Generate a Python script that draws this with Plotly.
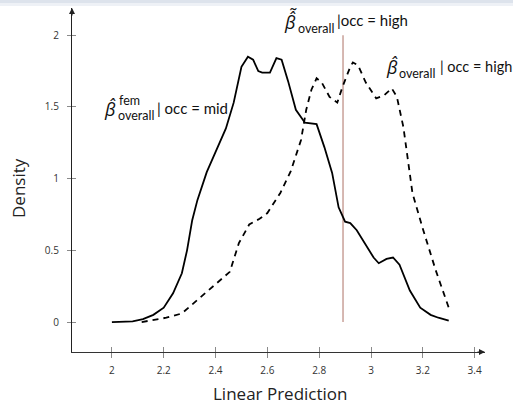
import plotly.graph_objects as go

# ---- data ----
mid_x = [2.0, 2.08, 2.12, 2.16, 2.2, 2.236, 2.27, 2.29, 2.31, 2.33, 2.366, 2.40, 2.44, 2.47,
         2.50, 2.525, 2.545, 2.565, 2.58, 2.61, 2.635, 2.655, 2.68, 2.71, 2.745, 2.79,
         2.82, 2.85, 2.875, 2.90, 2.92, 2.945, 2.985, 3.01, 3.03, 3.06, 3.085, 3.11,
         3.15, 3.19, 3.23, 3.26, 3.3]
mid_y = [0.0, 0.005, 0.02, 0.05, 0.10, 0.20, 0.34, 0.50, 0.71, 0.85, 1.045, 1.18, 1.35, 1.53,
         1.78, 1.85, 1.83, 1.75, 1.74, 1.74, 1.84, 1.83, 1.68, 1.48, 1.39, 1.38,
         1.22, 1.04, 0.80, 0.70, 0.69, 0.64, 0.52, 0.45, 0.41, 0.44, 0.45, 0.40,
         0.22, 0.10, 0.05, 0.03, 0.01]

high_x = [2.115, 2.17, 2.21, 2.27, 2.34, 2.40, 2.455, 2.49, 2.53, 2.57, 2.60, 2.65, 2.69,
          2.73, 2.75, 2.77, 2.79, 2.81, 2.84, 2.87, 2.89, 2.92, 2.93, 2.95, 2.98,
          3.02, 3.05, 3.08, 3.10, 3.125, 3.16, 3.20, 3.25, 3.30]
high_y = [0.0, 0.015, 0.03, 0.06, 0.17, 0.26, 0.35, 0.55, 0.68, 0.72, 0.76, 0.90, 1.05,
          1.27, 1.48, 1.62, 1.70, 1.67, 1.57, 1.53, 1.64, 1.78, 1.81, 1.79, 1.67,
          1.56, 1.58, 1.63, 1.57, 1.36, 0.90, 0.65, 0.36, 0.10]

vline_x = [2.892, 2.892]
vline_y = [0.0, 2.0]

x_ticks = [2, 2.2, 2.4, 2.6, 2.8, 3, 3.2, 3.4]
x_labels = ["2", "2.2", "2.4", "2.6", "2.8", "3", "3.2", "3.4"]
y_ticks = [0, 0.5, 1, 1.5, 2]
y_labels = ["0", "0.5", "1", "1.5", "2"]

X_RANGE = [1.846, 3.44]
Y_RANGE = [-0.209, 2.19]

W, H = 513, 404
FONT = "Open Sans"
LFONT = "Lato"

fig = go.Figure()
fig.add_trace(go.Scatter(x=vline_x, y=vline_y, mode="lines",
                         line=dict(color="#c9a199", width=1.5), hoverinfo="skip"))
fig.add_trace(go.Scatter(x=mid_x, y=mid_y, mode="lines",
                         line=dict(color="#000000", width=1.8), hoverinfo="skip"))
fig.add_trace(go.Scatter(x=high_x, y=high_y, mode="lines",
                         line=dict(color="#000000", width=1.8, dash="6px,5px"), hoverinfo="skip"))

xdom = [72 / W, 485 / W]
ydom = [1 - 352 / H, 1 - 8 / H]

axis_common = dict(showgrid=False, zeroline=False)
fig.update_layout(
    width=W, height=H,
    margin=dict(l=0, r=0, t=0, b=0),
    paper_bgcolor="white", plot_bgcolor="white",
    showlegend=False,
    font=dict(family=FONT, color="#333333"),
    xaxis=dict(domain=xdom, range=X_RANGE, tickvals=x_ticks, ticktext=x_labels,
               ticks="outside", ticklen=5, tickcolor="#8a8a8a", tickwidth=1,
               showline=True, linecolor="#333333", linewidth=1.3,
               tickfont=dict(size=10, color="#333333", family=FONT),
               ticklabelstandoff=4, **axis_common),
    yaxis=dict(domain=ydom, range=Y_RANGE, tickvals=y_ticks, ticktext=y_labels,
               ticks="outside", ticklen=4, tickcolor="#8a8a8a", tickwidth=1,
               showline=True, linecolor="#222222", linewidth=1.2,
               tickfont=dict(size=10, color="#333333", family=FONT),
               ticklabelstandoff=6, **axis_common),
    xaxis2=dict(domain=xdom, range=X_RANGE, overlaying="x", anchor="y", side="bottom",
                tickvals=x_ticks, ticks="inside", ticklen=5, tickcolor="#8a8a8a",
                showticklabels=False, showline=False, **axis_common),
    yaxis2=dict(domain=ydom, range=Y_RANGE, overlaying="y", anchor="x", side="left",
                tickvals=y_ticks, ticks="inside", ticklen=4, tickcolor="#8a8a8a",
                showticklabels=False, showline=False, **axis_common),
)
# dummy trace to activate the overlay axes
fig.add_trace(go.Scatter(x=[None], y=[None], xaxis="x2", yaxis="y2", hoverinfo="skip"))

def px2x(px):
    return 2 + (px - 112) / 259.0

def py2y(py):
    return (322 - py) / 143.5

ann = []
# axis arrows
ann.append(dict(x=X_RANGE[1], y=Y_RANGE[0], xref="x", yref="y", text="", showarrow=True,
                ax=-9, ay=0, arrowhead=2, arrowsize=1, arrowwidth=1.2, arrowcolor="#222222"))
ann.append(dict(x=X_RANGE[0], y=Y_RANGE[1], xref="x", yref="y", text="", showarrow=True,
                ax=0, ay=9, arrowhead=2, arrowsize=1, arrowwidth=1.2, arrowcolor="#222222"))
# axis titles
ann.append(dict(x=280 / W, y=1 - 393 / H, xref="paper", yref="paper", text="Linear Prediction",
                showarrow=False, font=dict(size=17, color="#222222", family=FONT),
                xanchor="center", yanchor="middle"))
ann.append(dict(x=18 / W, y=1 - 188 / H, xref="paper", yref="paper", text="Density",
                showarrow=False, textangle=-90, font=dict(size=17, color="#222222", family=FONT),
                xanchor="center", yanchor="middle"))

def label(parts):
    for txt, px, py, size, anchor, fam in parts:
        ann.append(dict(x=px2x(px), y=py2y(py), xref="x", yref="y", text=txt, showarrow=False,
                        font=dict(size=size, color="#111111", family=fam), borderpad=0,
                        xanchor=anchor, yanchor="middle"))

BETA_HAT = "<i>\u03b2\u0302</i>"
BETA_TH = "<i>\u03b2\u0302\u0303</i>"
# label 1: beta-hat^fem_overall | occ = mid
label([
    (BETA_HAT, 110, 109, 18, "center", FONT),
    ("fem", 118, 100, 12.5, "left", LFONT),
    ("overall", 117, 115, 12.5, "left", LFONT),
    ("| occ = mid", 156, 108, 15, "left", LFONT),
])
# label 2: beta tilde-hat overall |occ = high
label([
    (BETA_TH, 291, 20, 18, "center", FONT),
    ("overall", 297, 28, 12.5, "left", LFONT),
    ("|occ = high", 336, 20, 15, "left", LFONT),
])
# label 3: beta-hat overall | occ = high
label([
    (BETA_HAT, 392, 67, 18, "center", FONT),
    ("overall", 398, 73, 12.5, "left", LFONT),
    ("| occ = high", 439, 66, 14.5, "left", LFONT),
])
fig.update_layout(annotations=ann)

# light band at top of slide
fig.add_shape(type="rect", xref="paper", yref="paper", x0=0, x1=1, y0=1 - 3 / H, y1=1,
              fillcolor="#dde3ec", line=dict(width=0), layer="below")
fig.add_shape(type="rect", xref="paper", yref="paper", x0=0, x1=1, y0=1 - 6 / H, y1=1 - 3 / H,
              fillcolor="#eef1f6", line=dict(width=0), layer="below")

fig.write_html("out.html")
